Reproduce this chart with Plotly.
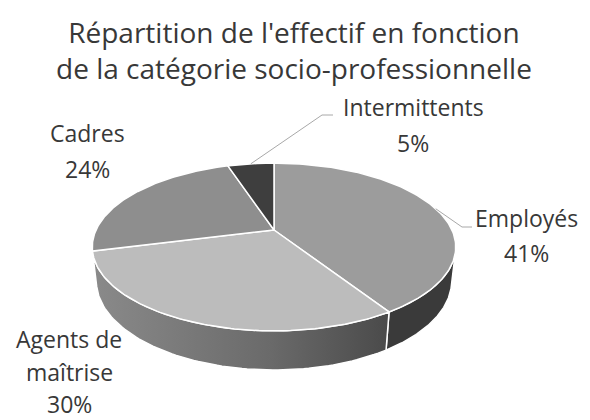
import numpy as np
import plotly.graph_objects as go

# ---- data ----
categories = ["Employés", "Agents de maîtrise", "Cadres", "Intermittents"]
values = [41, 30, 24, 5]
label_lines = [["Employés"], ["Agents de", "maîtrise"], ["Cadres"], ["Intermittents"]]
title_text = "Répartition de l'effectif en fonction<br>de la catégorie socio-professionnelle"

# ---- styles ----
top_colors = ["#9c9c9c", "#bcbcbc", "#8e8e8e", "#3e3e3e"]
side_colors = ["#3a3a3a", None, "#6a6a6a", "#2e2e2e"]
side_gradient = {1: [[0, "#8a8a8a"], [0.6, "#6a6a6a"], [1, "#4a4a4a"]]}
text_color = "#383838"
FONT = "Open Sans"

# page offset (browser body margin) – the axes are expressed in window pixels
OFF = 8
W, H_PX = 590, 420

# label anchor (centre x, first line y, line spacing) in window pixels
label_anchor = [(526, 218, 35), (69, 339, 32.5), (87, 133, 36), (413, 107, 36)]
title_anchor = (294, 50)
leader_targets = {0: [(462, 227), (472, 227)], 3: [(322, 115), (333, 115)]}

# ---- 3D projection parameters (window pixels) ----
CX, CY = 274, 230          # screen position of pie centre
F = 783.0                  # focal scale
D = 4.40                   # camera distance
S_A = 0.452                # sin(tilt)
C_A = float(np.sqrt(1 - S_A**2))
THICK = 0.216              # pie thickness (in radii)


def proj(theta_deg, z, r=1.0):
    t = np.radians(theta_deg)
    X = r * np.sin(t)
    Y = r * np.cos(t)
    yv = Y * S_A + z * C_A
    depth = D + Y * C_A - z * S_A
    return CX + F * X / depth, CY - F * yv / depth


total = sum(values)
bounds = np.concatenate([[0], np.cumsum(values)]) / total * 360.0

# visible angular range of outer wall
th_v = np.degrees(np.arccos(-1.0 / (D * C_A)))
vis_lo, vis_hi = th_v, 360 - th_v

fig = go.Figure()

# side walls
for i, cat in enumerate(categories):
    a, b = bounds[i], bounds[i + 1]
    lo, hi = max(a, vis_lo), min(b, vis_hi)
    if hi <= lo:
        continue
    th = np.linspace(lo, hi, 80)
    xt, yt = proj(th, 0.0)
    xb, yb = proj(th[::-1], -THICK)
    xs = np.concatenate([xt, xb, xt[:1]])
    ys = np.concatenate([yt, yb, yt[:1]])
    kw = dict(fillcolor=side_colors[i])
    if i in side_gradient:
        kw = dict(fillgradient=dict(type="horizontal", colorscale=side_gradient[i]))
    fig.add_trace(go.Scatter(x=xs, y=ys, mode="lines", fill="toself",
                             line=dict(color="white", width=1.5),
                             hoverinfo="skip", showlegend=False, **kw))

# top faces
for i, cat in enumerate(categories):
    a, b = bounds[i], bounds[i + 1]
    th = np.linspace(a, b, 120)
    xa, ya = proj(th, 0.0)
    cx0, cy0 = proj(0.0, 0.0, r=0.0)
    xs = np.concatenate([[cx0], xa, [cx0]])
    ys = np.concatenate([[cy0], ya, [cy0]])
    fig.add_trace(go.Scatter(x=xs, y=ys, mode="lines", fill="toself",
                             fillcolor=top_colors[i],
                             line=dict(color="white", width=1.5),
                             name=cat, hoverinfo="name", showlegend=False))

# leader lines
for i, pts in leader_targets.items():
    mid = (bounds[i] + bounds[i + 1]) / 2
    x0, y0 = proj(mid, 0.0)
    xs = [x0] + [p[0] for p in pts]
    ys = [y0] + [p[1] for p in pts]
    fig.add_trace(go.Scatter(x=xs, y=ys, mode="lines",
                             line=dict(color="#a8a8a8", width=1),
                             hoverinfo="skip", showlegend=False))

# labels
for i, cat in enumerate(categories):
    pct = f"{round(values[i] / total * 100)}%"
    lines = label_lines[i] + [pct]
    lx, ly, sp = label_anchor[i]
    for k, ln in enumerate(lines):
        fig.add_annotation(x=lx, y=ly + k * sp, text=ln, showarrow=False,
                           xanchor="center", yanchor="middle",
                           font=dict(family=FONT, size=23, color=text_color))

# title
fig.add_annotation(x=title_anchor[0], y=title_anchor[1], text=title_text,
                   showarrow=False, xanchor="center", yanchor="middle",
                   font=dict(family=FONT, size=28, color=text_color))

fig.update_layout(
    width=W - OFF, height=H_PX - OFF,
    margin=dict(l=0, r=0, t=0, b=0),
    paper_bgcolor="white", plot_bgcolor="white",
    xaxis=dict(range=[OFF, W], visible=False, fixedrange=True),
    yaxis=dict(range=[H_PX, OFF], visible=False, fixedrange=True),
)

fig.write_html("out.html")
